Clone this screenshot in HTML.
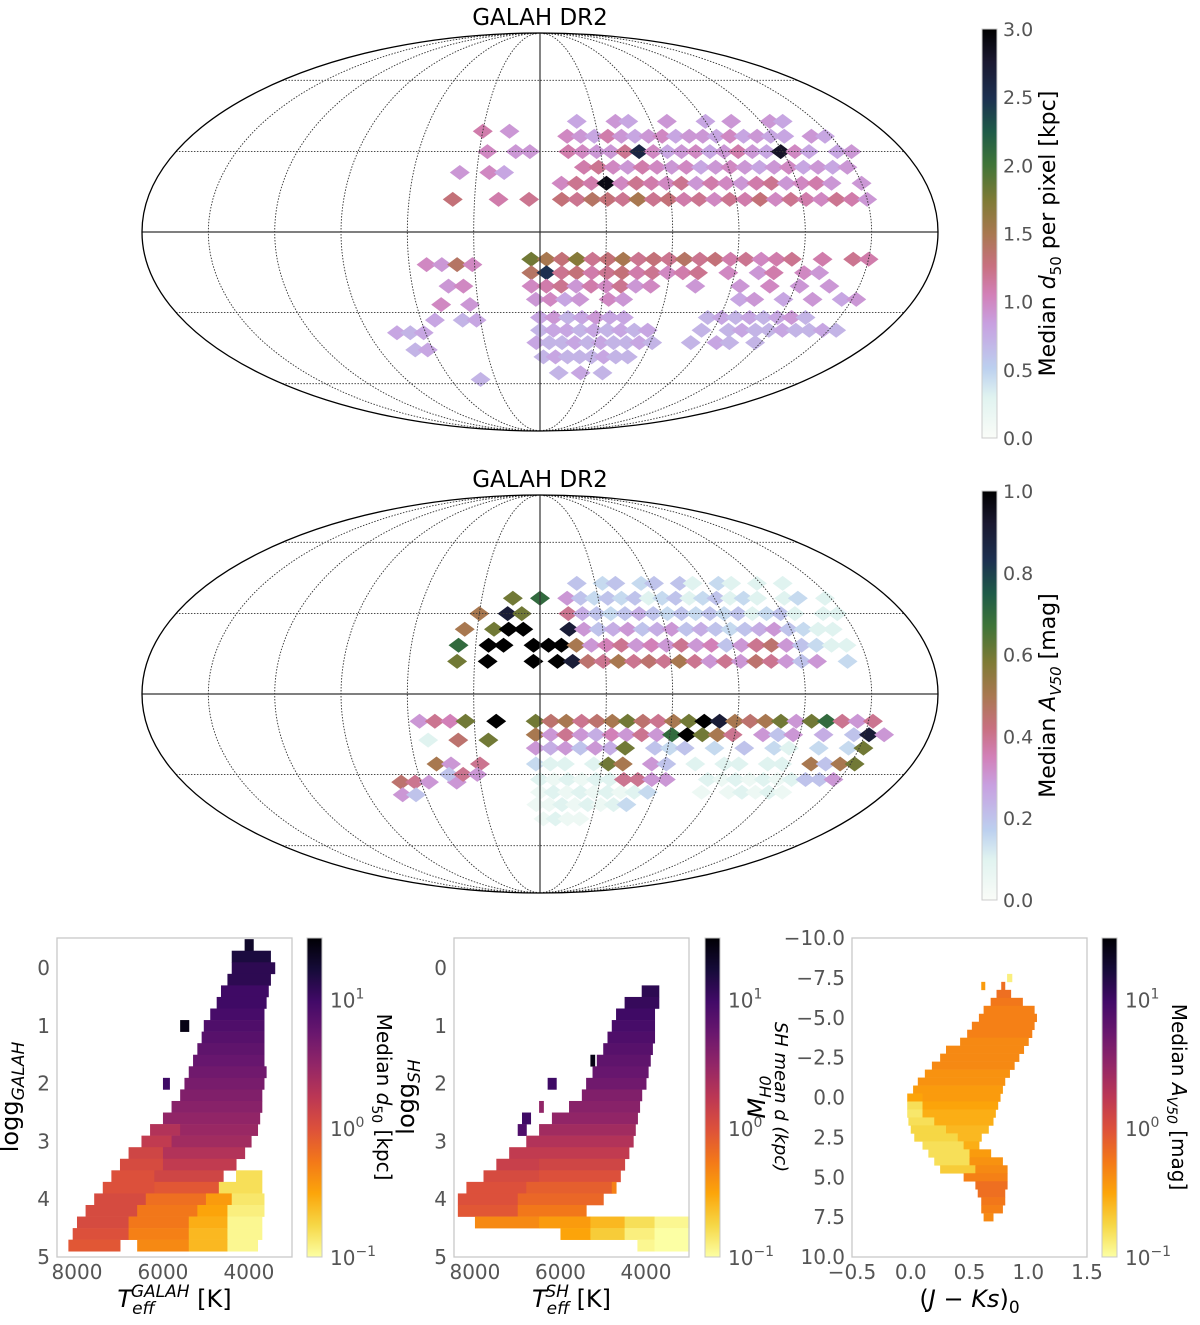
<!DOCTYPE html>
<html><head><meta charset="utf-8"><style>
html,body{margin:0;padding:0;background:#fff;}
svg{display:block;font-family:"DejaVu Sans","Liberation Sans",sans-serif;}
</style></head><body>
<svg id="fig" width="1200" height="1325" viewBox="0 0 1200 1325" xmlns="http://www.w3.org/2000/svg">
<defs>
<linearGradient id="cubeGrad" x1="0" y1="1" x2="0" y2="0"></linearGradient>
<linearGradient id="infGrad" x1="0" y1="1" x2="0" y2="0"></linearGradient>
</defs>
</svg>
<script>
// ---------- Sky map 1 data (median d50, kpc): rows [lat, lonStart, values...], lon step 7 deg ----------
const skyLonStep = 7;
const sky1Lat   = [42,36,30,24,18,12, 38,30,22,12, -10,-15,-20,-25, -12,-20,-27, -32,-37,-42,-48,-55, -38,-33,-45,-58];
const sky1Start = [20,14,14,14,10,10, -30,-33,-38,-40, -4,-4,-4,-2, -52,-50,-48, 0,0,-2,2,5, -75,-60,-70,-40];
const sky1Vals = [
 [0.8,0,0,0.9,0.8,0,0,0.9,0,0,0.8,0,0.9,0,0,0.9,0.8],
 [1.0,0.9,0.8,1.1,0.9,0.8,0.9,1.0,0.8,0.9,0.9,0.8,1.0,0.8,0.9,0.8,0.8,0,0.9,0.8],
 [1.1,1.0,0.9,0.9,1.2,2.6,1.0,0.8,0.9,1.0,0.8,0.9,1.1,0.9,0.8,2.8,1.0,0.8,0,0.8,0.9],
 [0,1.1,1.2,1.0,0.9,1.1,1.0,0.9,1.0,0.8,0.9,1.0,0.9,0.8,0.9,1.0,0.8,0.9,0.8,0.9,0],
 [1.0,1.2,1.1,2.9,1.0,1.2,1.1,1.0,1.2,0.9,1.1,1.0,0.9,1.1,1.2,0.9,1.0,1.1,0.9,0,0.9],
 [1.3,1.2,1.4,1.3,1.2,1.5,1.2,1.3,1.1,1.2,1.0,1.2,1.1,1.3,1.0,1.2,1.1,1.0,1.2,1.1,0.9],
 [1.1,0,0.9,0,0],
 [0,1.0,0,0.9,0.9],
 [0.9,0,1.0,0.8,0],
 [1.3,0,0,1.1,0,1.2],
 [1.8,1.5,1.3,1.7,1.2,1.3,1.5,1.2,1.3,1.2,1.4,1.2,1.3,1.1,1.2,1.0,1.1,1.2,0,1.1,0,1.2,1.1],
 [1.4,2.5,1.2,1.3,1.1,1.2,1.3,1.1,1.2,1.0,1.1,1.2,0,1.0,0,0.9,1.1,0,1.0,0.9],
 [1.0,1.1,1.2,0.9,1.1,1.0,1.2,0.9,1.0,0,0,0.9,0,0,0.9,0,1.0,0,0.9,0,0.9,0],
 [0.9,1.0,0.8,0.9,0,1.0,0.9,0,0,0,0,0,0,0,0.8,0.9,0,0.8,0,0.9,0,0.8,0.9],
 [1.0,0.9,1.4,1.0],
 [0,0.9,1.0,0],
 [1.0,0,0.9],
 [0.8,0.9,0.7,0.8,0.9,0.8,0.8,0,0,0,0,0,0.7,0.8,0.7,0.8,0.7,0.8,0.9,0.7],
 [0.7,0.8,0.8,0.7,0.8,0.7,0.8,0.7,0.8,0,0,0,0.7,0,0.7,0.8,0.7,0.7,0.8,0.7,0.7,0.8,0.7],
 [0.8,0.7,0.7,0.8,0.7,0.8,0.7,0.7,0.8,0.7,0,0,0.7,0,0.8,0.7,0,0.7],
 [0.7,0.8,0.7,0.7,0.7,0.8,0.7,0.7],
 [0,0.7,0,0.8,0,0.7],
 [0.8,0.7,0.8],
 [0,0.8,0,0.7,0.8],
 [0.7,0.8,0,0],
 [0.7]
];
// ---------- Sky map 2 data (median Av50, mag) ----------
const sky2Lat   = [42,36,30,24,18,12, 30,24,18,12,36, -10,-15,-20,-26, -10,-17,-26, -32,-37,-42,-48, -33,-38,-30];
const sky2Start = [20,14,14,14,10,8, -30,-36,-38,-38,-14, -2,-2,-2,-2, -55,-52,-50, 0,0,-2,2, -70,-72,-45];
const sky2Vals = [
 [0.2,0,0.15,0.2,0,0.15,0.2,0,0.2,0.1,0,0.15,0.1,0,0.1,0,0.1],
 [0.3,0.2,0.15,0.2,0.15,0.2,0.1,0.15,0.2,0.1,0.15,0.2,0.1,0.15,0.1,0,0.1,0.15,0,0.1],
 [0.4,0.25,0.2,0.15,0.2,0.25,0.2,0.15,0.2,0.15,0.2,0.15,0.2,0.1,0.15,0.2,0.1,0,0.1,0.1],
 [0.9,0.3,0.2,0.25,0.3,0.2,0.25,0.3,0.2,0.25,0.2,0.15,0.2,0.25,0.3,0.2,0.15,0.1,0.1,0],
 [1.0,0.5,0.3,0.35,0.4,0.3,0.35,0.3,0.4,0.3,0.35,0.2,0.3,0.4,0.45,0.3,0.2,0.15,0.1,0.1],
 [1.0,0.9,0.45,0.4,0.5,0.4,0.45,0.4,0.5,0.4,0.3,0.4,0.3,0.45,0.4,0.3,0.2,0.3,0,0.15],
 [0.5,0,0.9,0.6],
 [0.5,0,0.6,1.0,1.0],
 [0.7,0,1.0,1.0,0,1.0,1.0],
 [0.6,0,1.0,0,0,1.0],
 [0.6,0,0.7],
 [0.6,0.45,0.5,0.4,0.45,0.5,0.6,0.45,0.4,0.5,0.6,1.0,0.9,0.5,0.45,0.5,0.6,0.3,0.6,0.7,0.4,0.3,0.4],
 [0.5,0.3,0.4,0.3,0.25,0.35,0.3,0.4,0.3,0.7,1.0,0.6,0.5,0.4,0,0.3,0.2,0.3,0,0.25,0,0.2,0.9,0.3],
 [0.3,0.25,0.3,0.2,0.3,0.25,0.6,0,0.2,0.15,0.2,0,0.15,0,0.2,0,0.15,0.1,0,0.15,0,0.15,0.6],
 [0.15,0.1,0.1,0,0.1,0.6,0.5,0,0.3,0.2,0,0.1,0,0.1,0.1,0,0.1,0.1,0,0.5,0.2,0.5,0.6],
 [0.3,0.4,0.35,0.6,0,1.0],
 [0.1,0,0.45,0,0.6],
 [0.5,0.3,0,0.4],
 [0.1,0.05,0.1,0.05,0.1,0.1,0.4,0.4,0.3,0.3,0,0,0.1,0.05,0.1,0.05,0.1,0.05,0.1,0.2,0.2,0.3],
 [0.05,0.1,0.05,0.1,0.05,0.1,0.05,0.1,0.15,0,0,0,0.05,0,0.05,0.1,0.05,0.1,0.05],
 [0.05,0.05,0.1,0.05,0.1,0.05,0.1,0.15],
 [0.05,0.1,0.05,0.05],
 [0.45,0.4,0.3,0,0.3],
 [0.3,0.2],
 [0.2,0.4,0.3]
];
// ---------- HR panel 1: rows logg centre, segments [TeffHot, TeffCool, log10 d50] ----------
const hr1Logg = [-0.4,-0.2,0.0,0.2,0.4,0.6,0.8,1.0,1.2,1.4,1.6,1.8,2.0,2.2,2.4,2.6,2.8,3.0,3.2,3.4,3.6,3.8,4.0,4.2,4.4,4.6,4.8];
const hr1Segs = [
 [[4100,3900,1.3]],[[4400,3500,1.2]],[[4400,3400,1.1]],[[4500,3500,1.1]],[[4650,3550,1.0]],[[4750,3600,1.0]],
 [[4900,3650,0.95]],[[5050,3650,0.9],[5600,5400,1.4]],[[5100,3650,0.85]],[[5200,3650,0.8]],[[5300,3650,0.75]],
 [[5400,3600,0.7]],[[5500,3650,0.65],[6000,5850,1.0]],[[5600,3700,0.6]],[[5800,3700,0.55]],[[6000,3750,0.5]],
 [[6300,5600,0.3],[5600,3800,0.45]],[[6500,5800,0.2],[5800,3950,0.4]],[[6800,6000,0.1],[6000,4100,0.3]],
 [[7000,6000,0.05],[6000,4300,0.2]],[[7200,6200,0.0],[6200,4600,0.1],[4300,3700,-0.8]],
 [[7400,6200,0.0],[6200,4700,-0.05],[4700,3700,-0.8]],
 [[7600,6400,0.05],[6400,5000,-0.2],[5000,4400,-0.45],[4400,3650,-0.85]],
 [[7800,6600,0.05],[6600,5200,-0.25],[5200,4500,-0.5],[4500,3650,-0.9]],
 [[8000,6800,0.05],[6800,5400,-0.25],[5400,4500,-0.55],[4500,3700,-0.95]],
 [[8100,6800,0.0],[6800,5400,-0.3],[5400,4500,-0.6],[4500,3700,-0.95]],
 [[8200,7000,-0.05],[6600,5400,-0.35],[5400,4500,-0.6],[4500,3800,-0.95]]
];
// ---------- HR panel 2 (SH) ----------
const hr2Logg = [0.4,0.6,0.8,1.0,1.2,1.4,1.6,1.8,2.0,2.2,2.4,2.6,2.8,3.0,3.2,3.4,3.6,3.8,4.0,4.2,4.4,4.6,4.8];
const hr2Segs = [
 [[4100,3700,1.1]],[[4500,3700,1.05]],[[4700,3800,1.0]],[[4800,3800,0.95]],[[4900,3800,0.9]],[[5000,3850,0.85]],
 [[5150,3900,0.8],[5300,5200,1.4]],[[5250,3950,0.75]],[[5400,4000,0.7],[6300,6100,1.0]],[[5500,4100,0.6]],
 [[5800,4150,0.55],[6500,6400,0.5]],[[6200,4200,0.5],[6900,6700,1.0]],[[6500,4250,0.4],[7000,6800,0.9]],
 [[6800,4300,0.3]],[[7200,4400,0.2]],[[7500,6500,0.15],[6500,4500,0.1]],[[7800,6500,0.05],[6500,4600,0.0]],
 [[8200,6800,0.0],[6800,4800,-0.1],[4800,4700,-0.3]],[[8400,7000,0.0],[7000,5000,-0.15]],
 [[8400,7000,-0.05],[7000,5400,-0.25]],
 [[8000,6500,-0.35],[6500,5300,-0.45],[5300,4500,-0.6],[4500,3800,-0.8],[3800,2990,-0.95]],
 [[6000,5300,-0.5],[5300,4500,-0.7],[4500,3800,-0.9],[3800,2990,-1.0]],
 [[4200,3800,-0.95],[3800,2990,-1.0]]
];
// ---------- CMD panel 3: rows M centre, segments [colourLo, colourHi, log10 Av] ----------
const cmdM = [-7.5,-7.0,-6.5,-6.0,-5.5,-5.0,-4.5,-4.0,-3.5,-3.0,-2.5,-2.0,-1.5,-1.0,-0.5,0.0,0.5,1.0,1.5,2.0,2.5,3.0,3.5,4.0,4.5,5.0,5.5,6.0,6.5,7.0,7.5];
const cmdSegs = [
 [[0.82,0.86,-0.9]],[[0.6,0.63,-0.45],[0.77,0.8,-0.2]],[[0.73,0.85,-0.2]],[[0.68,0.95,-0.25]],[[0.62,1.05,-0.3]],
 [[0.58,1.07,-0.3]],[[0.52,1.05,-0.3]],[[0.48,1.03,-0.3]],[[0.42,1.0,-0.35]],[[0.3,0.96,-0.35]],[[0.25,0.92,-0.35]],
 [[0.18,0.88,-0.35]],[[0.12,0.84,-0.4]],[[0.06,0.8,-0.4]],[[0.02,0.78,-0.45]],
 [[-0.03,0.1,-0.5],[0.1,0.76,-0.45]],[[-0.03,0.1,-0.8],[0.1,0.74,-0.5]],[[-0.03,0.1,-0.85],[0.1,0.72,-0.55]],
 [[-0.02,0.2,-0.8],[0.2,0.7,-0.55]],[[0.0,0.3,-0.75],[0.3,0.66,-0.6]],[[0.03,0.4,-0.75],[0.4,0.6,-0.6]],
 [[0.1,0.45,-0.8],[0.45,0.58,-0.55]],[[0.15,0.5,-0.8],[0.5,0.68,-0.45]],[[0.2,0.5,-0.8],[0.5,0.78,-0.4]],
 [[0.25,0.55,-0.7],[0.55,0.82,-0.35]],[[0.45,0.82,-0.3]],[[0.55,0.82,-0.2]],[[0.57,0.8,-0.2]],[[0.6,0.8,-0.25]],
 [[0.6,0.78,-0.3]],[[0.62,0.7,-0.35]]
];
const cb1Ticks = ["0.0","0.5","1.0","1.5","2.0","2.5","3.0"];
const cb2Ticks = ["0.0","0.2","0.4","0.6","0.8","1.0"];
const teffTicks = [8000,6000,4000];
const loggTicks = [0,1,2,3,4,5];
const colTicks = ["−0.5","0.0","0.5","1.0","1.5"];
const magTicks = ["−10.0","−7.5","−5.0","−2.5","0.0","2.5","5.0","7.5","10.0"];

const NS="http://www.w3.org/2000/svg";
const svg=document.getElementById('fig');
function mk(tag,attrs,parent){const e=document.createElementNS(NS,tag);for(const k in attrs)e.setAttribute(k,attrs[k]);(parent||svg).appendChild(e);return e;}
function hex(h){return [parseInt(h.substr(1,2),16),parseInt(h.substr(3,2),16),parseInt(h.substr(5,2),16)];}
function interp(stops,t){t=Math.max(0,Math.min(1,t));for(let i=1;i<stops.length;i++){if(t<=stops[i][0]){const a=stops[i-1],b=stops[i];const f=(t-a[0])/(b[0]-a[0]);const ca=hex(a[1]),cb=hex(b[1]);return 'rgb('+ca.map((v,j)=>Math.round(v+(cb[j]-v)*f)).join(',')+')';}}return stops[stops.length-1][1];}
const cube=[[0,'#fafcf8'],[0.1,'#e0f3f0'],[0.17,'#bcd0ef'],[0.28,'#c8a0e0'],[0.35,'#d280b8'],[0.42,'#c87080'],[0.5,'#a87850'],[0.58,'#7f7a35'],[0.67,'#3e7438'],[0.75,'#1e5a48'],[0.83,'#1c3050'],[0.92,'#1a1830'],[1,'#000000']];
const inferno=[[0,'#000004'],[0.1,'#160b39'],[0.2,'#420a68'],[0.3,'#6a176e'],[0.4,'#932667'],[0.5,'#bc3754'],[0.6,'#dd513a'],[0.7,'#f37819'],[0.8,'#fca50a'],[0.9,'#f6d746'],[1,'#fcffa4']];
const infR=inferno.map(s=>[1-s[0],s[1]]).reverse();
for(const s of cube){mk('stop',{offset:s[0],'stop-color':s[1]},document.getElementById('cubeGrad'));}
for(const s of infR){mk('stop',{offset:s[0],'stop-color':s[1]},document.getElementById('infGrad'));}

function txt(x,y,s,attrs,parent){const t=mk('text',Object.assign({x:x,y:y},attrs||{}),parent);t.textContent=s;return t;}

// ---------- Mollweide ----------
function theta(phi){let t=phi;for(let i=0;i<30;i++){if(Math.abs(Math.cos(t))<1e-9)break;t-=(2*t+Math.sin(2*t)-Math.PI*Math.sin(phi))/(2+2*Math.cos(2*t));}return t;}
function moll(cx,cy,a,b){return function(lon,lat){const th=theta(lat*Math.PI/180);return [cx+a*(lon/180)*Math.cos(th),cy-b*Math.sin(th)];};}
function skyMap(name,cy,lats,starts,vals,vmax,title,cbY0,cbY1,ticks,cbLabel){
  const g=mk('g',{});
  
  
  const cx=540,a=398,b=199;const P=moll(cx,cy,a,b);
  const dg=mk('g',{},g);
  
  
  for(let r=0;r<lats.length;r++){for(let i=0;i<vals[r].length;i++){const v=vals[r][i];if(!v)continue;
    const p=P(starts[r]+i*skyLonStep,lats[r]);const c=interp(cube,v/vmax);
    const d=mk('path',{d:`M${p[0]-10},${p[1]} L${p[0]},${p[1]-7.5} L${p[0]+10},${p[1]} L${p[0]},${p[1]+7.5}Z`,fill:c},dg);
    
    }}
  const gg=mk('g',{fill:'none',stroke:'#333','stroke-width':0.9},g);
  
  
  for(let lon=-150;lon<=150;lon+=30){let d='';for(let la=-90;la<=90;la+=2){const p=P(lon,la);d+=(la==-90?'M':'L')+p[0].toFixed(1)+','+p[1].toFixed(1);}
    mk('path',{d:d,'stroke-dasharray':lon==0?'none':'1.5,1.5','stroke-width':lon==0?1.2:0.9},gg);}
  for(const la of [-60,-30,0,30,60]){const p1=P(-180,la),p2=P(180,la);mk('line',{x1:p1[0],y1:p1[1],x2:p2[0],y2:p2[1],'stroke-dasharray':la==0?'none':'1.5,1.5','stroke-width':la==0?1.2:0.9},gg);}
  const el=mk('ellipse',{cx:cx,cy:cy,rx:a,ry:b,fill:'none',stroke:'#000','stroke-width':1.3},g);
  
  
  const tt=txt(540,cy-b-8,title,{'text-anchor':'middle','font-size':23,fill:'#000'},g);
  
  
  const cb=mk('rect',{x:982,y:cbY0,width:15,height:cbY1-cbY0,fill:'url(#cubeGrad)',stroke:'#ccc','stroke-width':1},g);
  
  
  for(let i=0;i<ticks.length;i++){const y=cbY1-(cbY1-cbY0)*i/(ticks.length-1);
    const t=txt(1003,y+7,ticks[i],{'font-size':19,fill:'#555'},g);
    
    }
  const lab=txt(0,0,'',{'font-size':22,fill:'#000','text-anchor':'middle',transform:`translate(1055,${(cbY0+cbY1)/2}) rotate(-90)`},g);
  lab.innerHTML=cbLabel;
  
  
}
skyMap('distance-sky-map',232,sky1Lat,sky1Start,sky1Vals,3.0,'GALAH DR2',29,438,cb1Ticks,'Median <tspan font-style="italic">d</tspan><tspan font-size="15" dy="6">50</tspan><tspan dy="-6"> per pixel   [kpc]</tspan>');
skyMap('extinction-sky-map',694,sky2Lat,sky2Start,sky2Vals,1.0,'GALAH DR2',491,900,cb2Ticks,'Median <tspan font-style="italic">A</tspan><tspan font-size="15" font-style="italic" dy="6">V50</tspan><tspan dy="-6">   [mag]</tspan>');

// ---------- bottom panels ----------
const PY0=938,PY1=1257;
function lognorm(v){return (v-(-1))/(Math.log10(30)-(-1));}
function panel(name,x0,x1,xmin,xmax,ymin,ymax,rows,segs,rowH,xTicksV,xTickLab,yTicksV,yTickLab,cbX,xlab,ylab,cblab,ylabX){
  const g=mk('g',{});
  
  
  const X=v=>x0+(v-xmin)/(xmax-xmin)*(x1-x0);
  const Y=v=>PY0+(v-ymin)/(ymax-ymin)*(PY1-PY0);
  const cg=mk('g',{},g);
  
  
  for(let r=0;r<rows.length;r++){for(const s of segs[r]){
    const xa=X(s[0]),xb=X(s[1]);const ya=Math.max(PY0,Y(rows[r]-rowH/2)),yb=Math.min(PY1,Y(rows[r]+rowH/2));
    const rc=mk('rect',{x:Math.min(xa,xb),y:ya,width:Math.abs(xb-xa)+0.5,height:yb-ya+0.3,fill:interp(infR,lognorm(s[2]))},cg);
    
    }}
  const fr=mk('rect',{x:x0,y:PY0,width:x1-x0,height:PY1-PY0,fill:'none',stroke:'#c8c8c8','stroke-width':1.3},g);
  
  
  for(let i=0;i<xTicksV.length;i++){const t=txt(X(xTicksV[i]),1279,xTickLab[i],{'text-anchor':'middle','font-size':20,fill:'#555'},g);
    
    }
  for(let i=0;i<yTicksV.length;i++){const t=txt(x0-7,Y(yTicksV[i])+7,yTickLab[i],{'text-anchor':'end','font-size':20,fill:'#555'},g);
    
    }
  const xl=txt((x0+x1)/2,1307,'',{'text-anchor':'middle','font-size':24,fill:'#000'},g);xl.innerHTML=xlab;
  
  
  const yl=txt(0,0,'',{'text-anchor':'middle','font-size':24,fill:'#000',transform:`translate(${ylabX},1097) rotate(-90)`},g);yl.innerHTML=ylab;
  
  
  const cb=mk('rect',{x:cbX,y:PY0,width:15,height:PY1-PY0,fill:'url(#infGrad)',stroke:'#c8c8c8','stroke-width':1},g);
  
  
  const cy=v=>PY1-(v+1)/(Math.log10(30)+1)*(PY1-PY0);
  const labs=[[1,'10','1'],[0,'10','0'],[-1,'10','−1']];
  for(const l of labs){const t=txt(cbX+23,cy(l[0])+8,'',{'font-size':20,fill:'#555'},g);t.innerHTML=l[1]+'<tspan font-size="14" dy="-9">'+l[2]+'</tspan>';
    
    }
  const cl=txt(0,0,'',{'text-anchor':'middle','font-size':20,fill:'#000',transform:`translate(${cbX+70},1097) rotate(90)`},g);cl.innerHTML=cblab;
  
  
}
panel('hr-diagram-galah',57,292,8465,2998,-0.52,5,hr1Logg,hr1Segs,0.2,teffTicks,teffTicks.map(String),loggTicks,loggTicks.map(String),307,
 '<tspan font-style="italic">T</tspan><tspan font-size="17" font-style="italic" dy="7">eff</tspan><tspan font-size="17" font-style="italic" dx="-24" dy="-17">GALAH</tspan><tspan dy="10"> [K]</tspan>',
 'logg<tspan font-size="17" font-style="italic" dy="6">GALAH</tspan>','Median <tspan font-style="italic">d</tspan><tspan font-size="14" dy="5">50</tspan><tspan dy="-5">   [kpc]</tspan>',18);
panel('hr-diagram-sh',454,689,8490,2994,-0.52,5,hr2Logg,hr2Segs,0.2,teffTicks,teffTicks.map(String),loggTicks,loggTicks.map(String),705,
 '<tspan font-style="italic">T</tspan><tspan font-size="17" font-style="italic" dy="7">eff</tspan><tspan font-size="17" font-style="italic" dx="-24" dy="-17">SH</tspan><tspan dy="10"> [K]</tspan>',
 'logg<tspan font-size="17" font-style="italic" dy="6">SH</tspan>','<tspan font-style="italic" font-size="18">SH mean d (kpc)</tspan>',414);
panel('colour-magnitude-diagram',852,1087,-0.5,1.5,-10,10,cmdM,cmdSegs,0.5,[-0.5,0,0.5,1.0,1.5],colTicks,[-10,-7.5,-5,-2.5,0,2.5,5,7.5,10],magTicks,1102,
 '(<tspan font-style="italic">J</tspan> − <tspan font-style="italic">Ks</tspan>)<tspan font-size="17" dy="6">0</tspan>',
 '<tspan font-style="italic">M</tspan><tspan font-size="16" font-style="italic" dy="6">H0</tspan>','Median <tspan font-style="italic">A</tspan><tspan font-size="14" font-style="italic" dy="5">V50</tspan><tspan dy="-5">   [mag]</tspan>',765);
</script>
</body></html>
